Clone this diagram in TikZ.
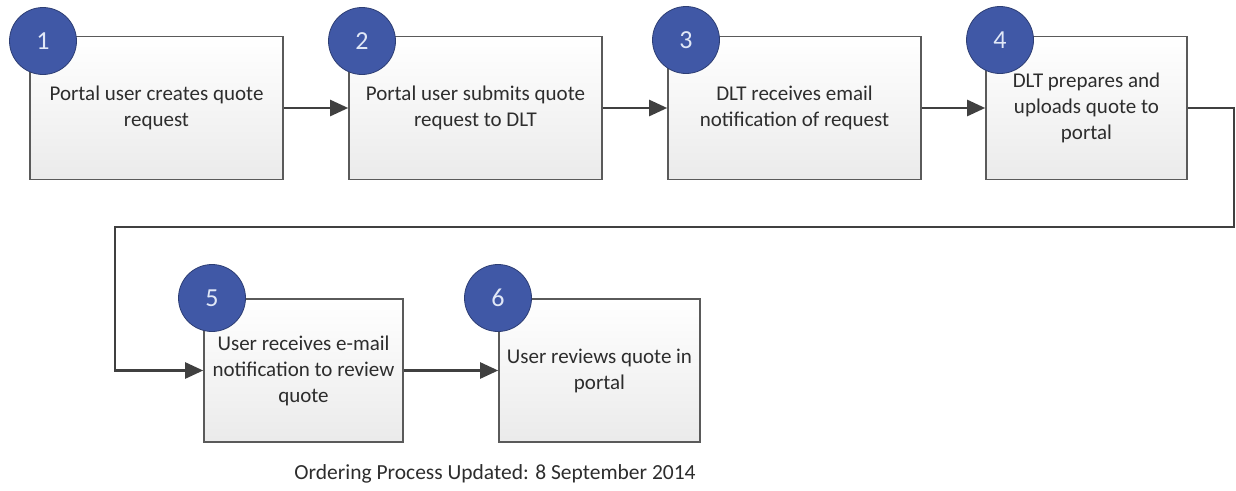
\documentclass[tikz,border=0pt]{standalone}
\usepackage{fontspec}
\setmainfont{Carlito}
\usetikzlibrary{shapes,arrows.meta}
\definecolor{stepblue}{RGB}{64,88,166}
\definecolor{edgegray}{RGB}{90,90,90}
\definecolor{flowgray}{RGB}{64,64,64}
\definecolor{txtgray}{RGB}{45,45,45}
\tikzset{
    stepbox/.style={draw=edgegray, line width=1.6pt, top color=white, bottom color=black!8,
        minimum height=143pt, align=center, text=txtgray, font=\fontsize{21}{26}\selectfont},
    numdot/.style={circle, fill=stepblue, draw=stepblue!70!black, line width=0.8pt,
        minimum size=67pt, text={rgb,255:red,225;green,232;blue,247}, font=\fontsize{26}{26}\selectfont},
    flow/.style={draw=flowgray, line width=2.4pt, -{Triangle[length=18pt,width=16pt]}}
}
\begin{document}
\begin{tikzpicture}[x=1pt,y=-1pt]
    \useasboundingbox (0,0) rectangle (1236,490);
    % top row
    \node[stepbox, minimum width=253pt] (b1) at (156.5,108) {Portal user creates quote\\request};
    \node[stepbox, minimum width=253pt] (b2) at (475.5,108) {Portal user submits quote\\request to DLT};
    \node[stepbox, minimum width=253pt] (b3) at (794.5,108) {DLT receives email\\notification of request};
    \node[stepbox, minimum width=201pt] (b4) at (1086.5,108) {DLT prepares and\\uploads quote to\\portal};
    % bottom row
    \node[stepbox, minimum width=199pt] (b5) at (303.5,370.5) {User receives e-mail\\notification to review\\quote};
    \node[stepbox, minimum width=201pt] (b6) at (599.5,370.5) {User reviews quote in\\portal};
    % numbers
    \foreach \n/\x/\y in {1/43/41, 2/362/41, 3/686/40, 4/1000/40, 5/212/298, 6/498/298} {
        \node[numdot] (c\n) at (\x,\y) {\n};
    }
    % connectors
    \draw[flow] (b1) -- (b2);
    \draw[flow] (b2) -- (b3);
    \draw[flow] (b3) -- (b4);
    \coordinate (turnR) at (1234,227);
    \coordinate (turnL) at (115,227);
    \draw[flow] (b4.east) -| (turnR) -- (turnL) |- (b5.west);
    \draw[flow] (b5) -- (b6);
    \node[text=txtgray, font=\fontsize{21.5}{24}\selectfont] (caption) at (495,474) {Ordering Process Updated: 8 September 2014};
\end{tikzpicture}
\end{document}
